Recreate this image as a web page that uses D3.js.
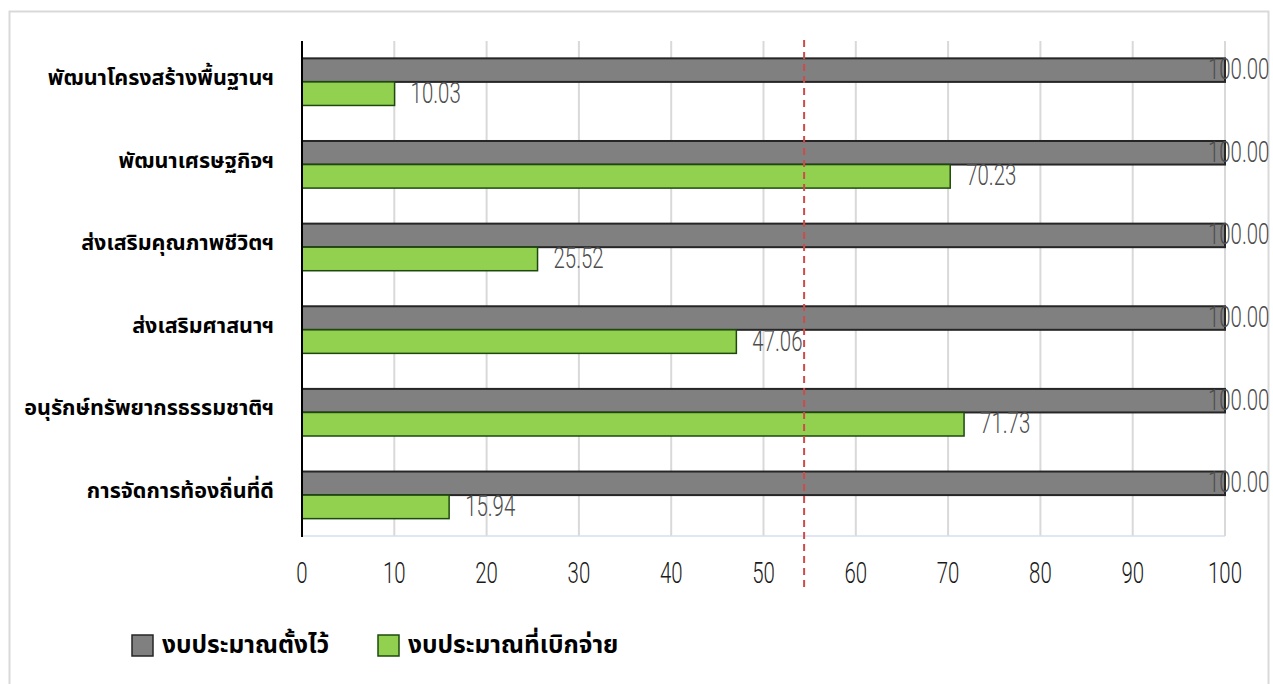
<!DOCTYPE html>
<html>
<head>
<meta charset="utf-8">
<script src="https://cdn.jsdelivr.net/npm/d3@7"></script>
<style>
  body { margin: 0; background: #fff; }
  .cat { font-family: "Noto Sans Thai", "Noto Sans", "DejaVu Sans", sans-serif; font-weight: bold; font-size: 21.5px; fill: #000; }
  .num { font-family: "Roboto", "Liberation Sans Narrow", sans-serif; font-weight: 300; font-size: 30px; }
</style>
</head>
<body>
<svg id="chart" width="1273" height="684"></svg>
<script>
const categories = [
  "พัฒนาโครงสร้างพื้นฐานฯ",
  "พัฒนาเศรษฐกิจฯ",
  "ส่งเสริมคุณภาพชีวิตฯ",
  "ส่งเสริมศาสนาฯ",
  "อนุรักษ์ทรัพยากรธรรมชาติฯ",
  "การจัดการท้องถิ่นที่ดี"
];
const budgetSet = [100, 100, 100, 100, 100, 100];
const budgetSpent = [10.03, 70.23, 25.52, 47.06, 71.73, 15.94];
const seriesNames = ["งบประมาณตั้งไว้", "งบประมาณที่เบิกจ่าย"];
const xTicks = [0, 10, 20, 30, 40, 50, 60, 70, 80, 90, 100];
const refLine = 54.4;

const squeeze = 0.68; // narrow the number font

const svg = d3.select("#chart");

// outer frame
svg.append("rect")
  .attr("x", 9.5).attr("y", 11.5)
  .attr("width", 1259).attr("height", 690)
  .attr("fill", "none").attr("stroke", "#d9d9d9").attr("stroke-width", 2);

const x = d3.scaleLinear().domain([0, 100]).range([302, 1225]);
const y = d3.scaleBand().domain(categories).range([41, 536])
  .paddingInner(0.43).paddingOuter(0.21);
const ySub = d3.scaleBand().domain([0, 1]).range([0, y.bandwidth()]);

// gridlines
svg.append("g").selectAll("line")
  .data(xTicks.slice(1))
  .enter().append("line")
  .attr("x1", d => x(d)).attr("x2", d => x(d))
  .attr("y1", 41).attr("y2", 536)
  .attr("stroke", "#d9d9d9").attr("stroke-width", 2);

// bottom baseline
svg.append("line")
  .attr("x1", x(0)).attr("x2", x(100))
  .attr("y1", 536).attr("y2", 536)
  .attr("stroke", "#d6dff0").attr("stroke-width", 1.5);

// x tick labels
svg.append("g").selectAll("text")
  .data(xTicks)
  .enter().append("text")
  .attr("class", "num")
  .attr("transform", d => `translate(${x(d)},583) scale(${squeeze},1)`)
  .attr("text-anchor", "middle")
  .attr("fill", "#1a1a1a")
  .text(d => d);

const rows = categories.map((c, i) => ({ cat: c, set: budgetSet[i], spent: budgetSpent[i] }));

const groups = svg.selectAll(".row")
  .data(rows)
  .enter().append("g")
  .attr("class", "row")
  .attr("transform", d => `translate(0,${y(d.cat)})`);

groups.append("rect")
  .attr("x", x(0))
  .attr("y", ySub(0))
  .attr("width", d => x(d.set) - x(0))
  .attr("height", ySub.bandwidth())
  .attr("fill", "#808080")
  .attr("stroke", "#262626").attr("stroke-width", 2);

groups.append("rect")
  .attr("x", x(0))
  .attr("y", ySub(1))
  .attr("width", d => x(d.spent) - x(0))
  .attr("height", ySub.bandwidth())
  .attr("fill", "#92d050")
  .attr("stroke", "#1d4a0c").attr("stroke-width", 1.5);

// value labels
groups.append("text")
  .attr("class", "num")
  .attr("transform", d => `translate(${x(d.set) - 17},${ySub(0) + ySub.bandwidth() / 2 + 9}) scale(${squeeze},1)`)
  .attr("fill", "#4d4d4d")
  .text(d => d.set.toFixed(2));

groups.append("text")
  .attr("class", "num")
  .attr("transform", d => `translate(${x(d.spent) + 16},${ySub(1) + ySub.bandwidth() / 2 + 9}) scale(${squeeze},1)`)
  .attr("fill", "#4d4d4d")
  .text(d => d.spent.toFixed(2));

// category labels
groups.append("text")
  .attr("class", "cat")
  .attr("x", 274)
  .attr("y", y.bandwidth() / 2 + 3)
  .attr("text-anchor", "end")
  .text(d => d.cat);

// y axis line
svg.append("line")
  .attr("x1", x(0)).attr("x2", x(0))
  .attr("y1", 41).attr("y2", 537)
  .attr("stroke", "#000").attr("stroke-width", 2);

// red dashed reference line
svg.append("line")
  .attr("x1", x(refLine)).attr("x2", x(refLine))
  .attr("y1", 40).attr("y2", 592)
  .attr("stroke", "#d0494b").attr("stroke-width", 2)
  .attr("stroke-dasharray", "7,5");

// legend
const legendColors = [["#808080", "#262626"], ["#92d050", "#1d4a0c"]];
const legendX = [132, 378];
const legend = svg.selectAll(".legend")
  .data(seriesNames)
  .enter().append("g")
  .attr("class", "legend")
  .attr("transform", (d, i) => `translate(${legendX[i]},635)`);

legend.append("rect")
  .attr("width", 21).attr("height", 21)
  .attr("fill", (d, i) => legendColors[i][0])
  .attr("stroke", (d, i) => legendColors[i][1])
  .attr("stroke-width", 1.5);

legend.append("text")
  .attr("class", "cat")
  .attr("x", 30).attr("y", 18)
  .style("font-size", "24.5px")
  .text(d => d);
</script>
</body>
</html>
